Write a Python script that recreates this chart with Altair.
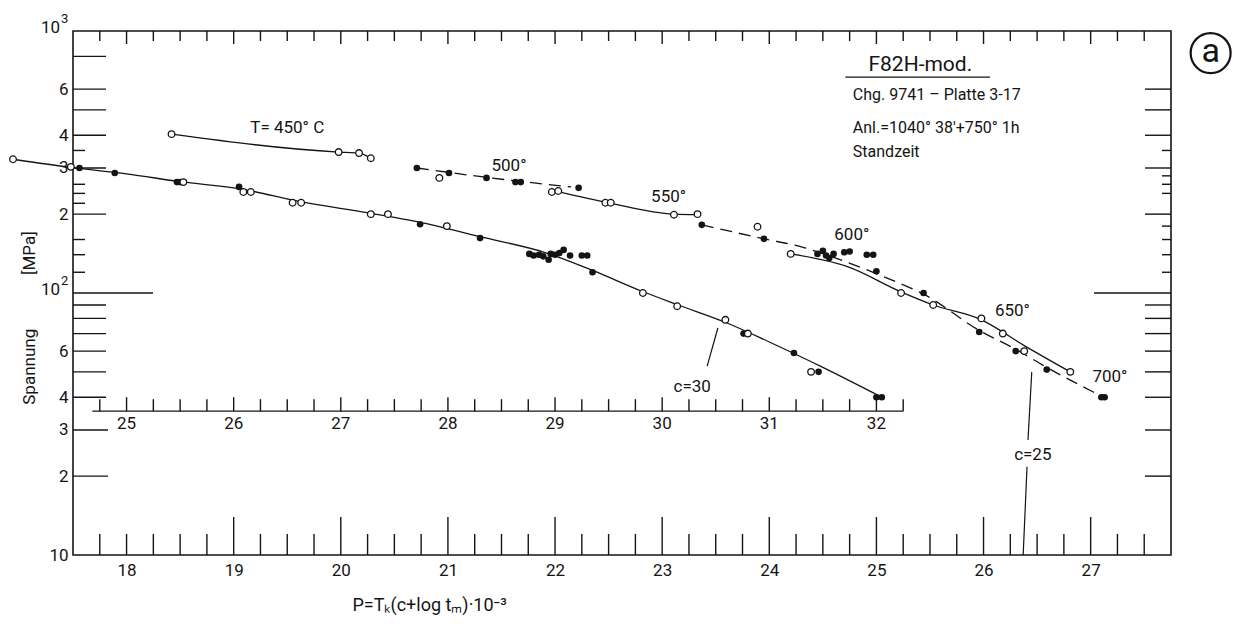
import altair as alt
import pandas as pd

# ---------------- values ----------------
# c = 30 master curve; P on the inset scale (inset P = main P + 7)
c30_open_p = [23.94, 24.48, 25.53, 26.09, 26.16, 26.55, 26.63, 27.28, 27.44, 27.99,
              29.82, 30.14, 30.59, 30.80, 31.39]
c30_open_s = [324, 303, 265, 243, 243, 221, 221, 200, 200, 180, 100, 89, 79, 70, 50]
c30_fill_p = [24.56, 24.89, 25.47, 25.50, 26.05, 27.74, 28.30, 28.76, 28.80, 28.85,
              28.89, 28.94, 28.96, 29.00, 29.04, 29.08, 29.14, 29.25, 29.30, 29.35,
              29.82, 30.76, 31.23, 31.46, 32.00, 32.05]
c30_fill_s = [300, 287, 265, 265, 254, 183, 162, 141, 139, 140, 138, 134, 141, 140,
              142, 146, 139, 139, 139, 120, 100, 70, 59, 50, 40, 40]
c30_line_p = [23.94, 24.5, 25.0, 25.5, 26.1, 26.6, 27.3, 27.8, 28.3, 28.9, 29.35,
              29.8, 30.15, 30.6, 31.0, 31.5, 32.05]
c30_line_s = [324, 301, 285, 266, 248, 224, 201, 184, 164, 143, 122, 102, 90, 77,
              65, 52, 40]

# c = 25 curves (main P scale)
c25_open_p = [18.42, 19.98, 20.17, 20.28, 20.92, 21.97, 22.03, 22.47, 22.52, 23.11,
              23.33, 23.89, 24.20, 25.23, 25.53, 25.98, 26.18, 26.38, 26.81]
c25_open_s = [404, 345, 342, 327, 275, 243, 245, 221, 221, 199, 200, 179, 141, 100,
              90, 80, 70, 60, 50]
c25_fill_p = [20.71, 21.01, 21.36, 21.63, 21.68, 22.22, 23.37, 23.95, 24.45, 24.50,
              24.53, 24.56, 24.60, 24.70, 24.75, 24.91, 24.97, 25.00, 25.44, 25.96,
              26.30, 26.59, 27.10, 27.13]
c25_fill_s = [300, 287, 275, 265, 265, 252, 182, 161, 141, 145, 139, 136, 141, 143,
              144, 140, 140, 121, 100, 71, 60, 51, 40, 40]

t450_line_p = [18.42, 19.98, 20.17, 20.28]
t450_line_s = [404, 345, 342, 327]
t500_dash_p = [20.71, 21.40, 22.15]
t500_dash_s = [300, 275, 254]
t550_line_p = [22.03, 22.50, 23.11, 23.33]
t550_line_s = [244, 221, 200, 199]
t600_dash_p = [23.37, 23.95, 24.30, 24.66, 25.19, 25.44, 25.96, 26.30, 26.59,
               27.02, 27.12]
t600_dash_s = [182, 161, 150, 134, 110, 99, 72, 61, 52, 42, 40]
t600_line_p = [24.20, 24.73, 25.23, 25.53, 25.98, 26.38, 26.81]
t600_line_s = [141, 126, 101, 90, 79, 63, 50]

# annotations (P on main scale, stress in MPa)
note_text = ["T= 450° C", "500°", "550°", "600°", "650°", "700°", "c=30", "c=25"]
note_p = [19.50, 21.57, 23.06, 24.77, 26.27, 27.18, 23.28, 26.46]
note_s = [427, 305, 232, 166, 85, 48, 43.8, 24.1]

info_title = "F82H-mod."
info_title_p, info_title_s = 25.41, 742
info_ul_p = [24.71, 26.06]
info_ul_s = 667
info_text = ["Chg. 9741 –  Platte 3-17", "Anl.=1040° 38'+750° 1h", "Standzeit"]
info_p = 24.78
info_s = [570, 427, 345]

badge_p, badge_s = 28.12, 824

# leader lines (c=30 and c=25)
lead_p1 = [23.52, 26.45, 26.406]
lead_p2 = [23.42, 26.415, 26.37]
lead_s1 = [73.5, 49.9, 21.7]
lead_s2 = [52.6, 27.5, 10.0]

ytitle_text = ["Spannung", "[MPa]"]
ytitle_p = 17.10
ytitle_s = [52.3, 142]

x_labels = list(range(18, 28))
y_label_values = [10, 20, 30, 40, 60, 200, 300, 400, 600]
decade_values = [100, 1000]
decade_exp = ["2", "3"]
left_major = [800, 600, 500, 400, 300, 200, 90, 80, 70, 60, 50, 40]
left_mid = [30, 20]
left_minor = [350, 260, 240, 220, 160, 140, 120]
right_major = [600, 500, 400, 300, 200, 90, 80, 70, 60, 50, 40, 30, 20]
right_minor = [350, 280, 260, 240, 180, 160, 140, 120]
long_tick = [100]

inset_labels = [25, 26, 27, 28, 29, 30, 31, 32]
inset_start, inset_end = 24.68, 32.25
inset_level = 35.4
INSET_SHIFT = 7.0

# ---------------- styling ----------------
FONT = "Roboto"
INK = "#141414"
X_DOMAIN = [17.5, 27.75]
Y_DOMAIN = [10, 1000]
W, H = 1098, 524
PX_X = W / (X_DOMAIN[1] - X_DOMAIN[0])
PX_DEC = H / 2.0

xs = alt.Scale(domain=X_DOMAIN, nice=False, zero=False)
ys = alt.Scale(type="log", domain=Y_DOMAIN, nice=False)

XA = alt.Axis(values=x_labels, ticks=False, domain=False, grid=False,
              labelFont=FONT, labelFontSize=17, labelColor=INK,
              labelPadding=7, labelOverlap=False, labelFlush=False,
              title="P=Tₖ(c+log  tₘ)·10⁻³", titleFont=FONT,
              titleFontSize=18, titleFontWeight="normal",
              titleColor=INK, titleX=279, titleY=50,
              titleAlign="left", titleBaseline="middle")
YA = alt.Axis(values=y_label_values, ticks=False, domain=False,
              grid=False, labelFont=FONT, labelFontSize=17,
              labelColor=INK, labelPadding=5, labelOverlap=False,
              labelFlush=False, title=None,
              labelExpr=("datum.value == 10 ? '10' : datum.value > 100 ? "
                         "format(datum.value / 100, 'd') : format(datum.value / 10, 'd')"))


def X(field):
    return alt.X(field, scale=xs, axis=XA)


def Y(field):
    return alt.Y(field, scale=ys, axis=YA)


def dx(px):
    return px / PX_X


def yf(px):
    return 10 ** (px / PX_DEC)


def rule_layer(df, width=1.3):
    return alt.Chart(df).mark_rule(color=INK, strokeWidth=width).encode(
        x=X("x1:Q"), x2="x2:Q", y=Y("y1:Q"), y2="y2:Q")


def line_layer(p, s, dash=None):
    df = pd.DataFrame({"p": p, "s": s, "o": list(range(len(p)))})
    kw = dict(color=INK, strokeWidth=1.3, interpolate="monotone")
    if dash:
        kw["strokeDash"] = dash
    return alt.Chart(df).mark_line(**kw).encode(
        x=X("p:Q"), y=Y("s:Q"), order="o:Q")


def pts(p, s, filled):
    df = pd.DataFrame({"p": p, "s": s})
    if filled:
        mk = alt.Chart(df).mark_point(shape="circle", filled=True, color=INK,
                                      size=44, opacity=1)
    else:
        mk = alt.Chart(df).mark_point(shape="circle", fill="white", stroke=INK,
                                      strokeWidth=1.3, size=44, opacity=1,
                                      fillOpacity=1)
    return mk.encode(x=X("p:Q"), y=Y("s:Q"))


def text_layer(texts, p, s, size=17, align="center", angle=None, dxp=0, dyp=0):
    df = pd.DataFrame({"t": texts, "p": p, "s": s})
    kw = dict(font=FONT, fontSize=size, color=INK, align=align,
              baseline="middle", fontWeight="normal", dx=dxp, dy=dyp)
    if angle is not None:
        kw["angle"] = angle
    return alt.Chart(df).mark_text(**kw).encode(
        x=X("p:Q"), y=Y("s:Q"), text="t:N")


# ---------------- tick marks of the frame ----------------
tick_rows = []
x0, x1 = X_DOMAIN
for v in left_major:
    tick_rows.append((x0, x0 + dx(33), v, v))
for v in left_mid:
    tick_rows.append((x0, x0 + dx(35), v, v))
for v in left_minor:
    tick_rows.append((x0, x0 + dx(12), v, v))
for v in long_tick:
    tick_rows.append((x0, x0 + dx(80), v, v))
for v in right_major:
    tick_rows.append((x1 - dx(26), x1, v, v))
for v in right_minor:
    tick_rows.append((x1 - dx(9), x1, v, v))
for v in long_tick:
    tick_rows.append((x1 - dx(77), x1, v, v))
for i in range(1, 41):
    p = X_DOMAIN[0] + 0.25 * i
    is_int = abs(p - round(p)) < 1e-9
    tick_rows.append((p, p, 1000, 1000 / yf(13 if is_int else 10)))
    long_b = is_int and p >= 19
    tick_rows.append((p, p, 10, 10 * yf(38 if long_b else 21)))
# inset axis
tick_rows.append((inset_start - INSET_SHIFT, inset_end - INSET_SHIFT,
                  inset_level, inset_level))
q = 24.75
while q <= inset_end + 1e-9:
    is_int = abs(q - round(q)) < 1e-9
    tick_rows.append((q - INSET_SHIFT, q - INSET_SHIFT, inset_level,
                      inset_level * yf(14 if is_int else 12)))
    q += 0.25
ticks_df = pd.DataFrame(tick_rows, columns=["x1", "x2", "y1", "y2"])

lead_df = pd.DataFrame({"x1": lead_p1, "x2": lead_p2, "y1": lead_s1, "y2": lead_s2})
ul_df = pd.DataFrame({"x1": [info_ul_p[0]], "x2": [info_ul_p[1]],
                      "y1": [info_ul_s], "y2": [info_ul_s]})

inset_lab = alt.Chart(pd.DataFrame({
    "t": [str(v) for v in inset_labels],
    "p": [v - INSET_SHIFT for v in inset_labels],
    "s": [inset_level] * len(inset_labels)})).mark_text(
    font=FONT, fontSize=17, color=INK, align="center", baseline="top", dy=5
).encode(x=X("p:Q"), y=Y("s:Q"), text="t:N")

badge_ring = alt.Chart(pd.DataFrame({"p": [badge_p], "s": [badge_s]})).mark_point(
    shape="circle", filled=False, color=INK, strokeWidth=2.2, size=1600, opacity=1
).encode(x=X("p:Q"), y=Y("s:Q"))
badge_a = text_layer(["a"], [badge_p], [badge_s * 1.01], size=34)

# decade labels 10^2, 10^3 with real superscripts
dec_base = text_layer(["10"] * len(decade_values), [X_DOMAIN[0]] * 2, decade_values,
                      size=17, align="right", dxp=-13, dyp=-3)
dec_exp = text_layer(decade_exp, [X_DOMAIN[0]] * 2, decade_values,
                     size=13, align="left", dxp=-12, dyp=-12)

layers = [
    rule_layer(ticks_df, 1.4),
    rule_layer(lead_df, 1.2),
    rule_layer(ul_df, 1.4),
    line_layer([p - INSET_SHIFT for p in c30_line_p], c30_line_s),
    line_layer(t450_line_p, t450_line_s),
    line_layer(t500_dash_p, t500_dash_s, dash=[12, 7]),
    line_layer(t550_line_p, t550_line_s),
    line_layer(t600_dash_p, t600_dash_s, dash=[12, 7]),
    line_layer(t600_line_p, t600_line_s),
    pts([p - INSET_SHIFT for p in c30_fill_p], c30_fill_s, True),
    pts([p - INSET_SHIFT for p in c30_open_p], c30_open_s, False),
    pts(c25_fill_p, c25_fill_s, True),
    pts(c25_open_p, c25_open_s, False),
    inset_lab,
    text_layer(note_text, note_p, note_s, size=17),
    text_layer([info_title], [info_title_p], [info_title_s], size=21),
    text_layer(info_text, [info_p] * len(info_text), info_s, size=16, align="left"),
    text_layer(ytitle_text, [ytitle_p] * 2, ytitle_s, size=17, angle=270),
    dec_base,
    dec_exp,
    badge_ring,
    badge_a,
]

chart = alt.layer(*layers).properties(
    width=W, height=H,
    autosize=alt.AutoSizeParams(type="none"),
    padding={"left": 73, "top": 31, "right": 67, "bottom": 75},
    background="white",
).configure_view(stroke=INK, strokeWidth=1.6)

chart.save("out.html", embed_options={"renderer": "svg", "actions": False})
